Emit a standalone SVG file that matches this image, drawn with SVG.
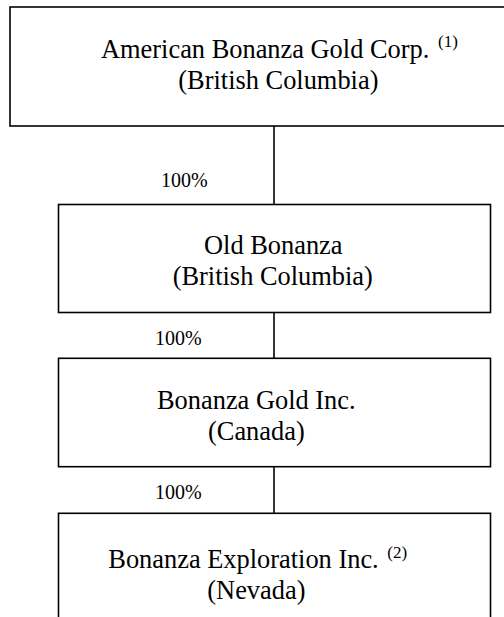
<svg xmlns="http://www.w3.org/2000/svg" width="504" height="617" viewBox="0 0 504 617">
<style>
.box{fill:#fff;stroke:#000;stroke-width:1.6}
.conn{stroke:#000;stroke-width:1.6;fill:none}
.t{font-family:"Liberation Serif","Times New Roman",serif;font-size:26.4px;fill:#000}
.sup{font-family:"Liberation Serif","Times New Roman",serif;font-size:17px;fill:#000}
.pct{font-family:"Liberation Serif","Times New Roman",serif;font-size:20px;fill:#000}
</style>
<rect width="504" height="617" fill="#fff"/>
<g id="connectors">
<line class="conn" x1="274" y1="126" x2="274" y2="204.5"/>
<line class="conn" x1="274" y1="312.5" x2="274" y2="358.3"/>
<line class="conn" x1="274" y1="466.7" x2="274" y2="513.3"/>
<text class="pct" x="161" y="187">100%</text>
<text class="pct" x="155" y="345">100%</text>
<text class="pct" x="155" y="498.5">100%</text>
</g>
<g id="american-bonanza">
<rect class="box" x="10" y="7" width="540" height="119"/>
<text class="t" x="101" y="58.3">American Bonanza Gold Corp.</text>
<text class="sup" x="438" y="47">(1)</text>
<text class="t" x="178.3" y="89.3">(British Columbia)</text>
</g>
<g id="old-bonanza">
<rect class="box" x="58.5" y="204.5" width="432" height="108"/>
<text class="t" x="204" y="254.3">Old Bonanza</text>
<text class="t" x="172.7" y="284.7">(British Columbia)</text>
</g>
<g id="bonanza-gold">
<rect class="box" x="58.5" y="358.3" width="432" height="108.4"/>
<text class="t" x="157" y="409.3">Bonanza Gold Inc.</text>
<text class="t" x="208" y="440">(Canada)</text>
</g>
<g id="bonanza-exploration">
<rect class="box" x="58.5" y="513.3" width="432" height="130"/>
<text class="t" x="108.3" y="568.3">Bonanza Exploration Inc.</text>
<text class="sup" x="387.3" y="557.5">(2)</text>
<text class="t" x="207.3" y="598.8">(Nevada)</text>
</g>
</svg>
